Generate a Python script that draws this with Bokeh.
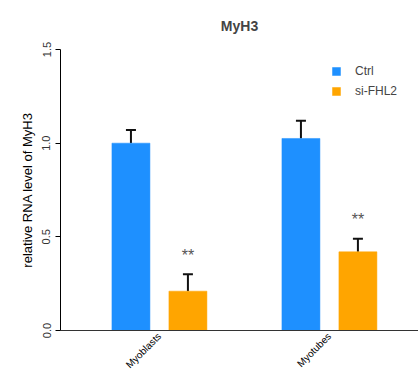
import math
from bokeh.plotting import figure
from bokeh.models import (Range1d, FixedTicker, ColumnDataSource, Whisker, TeeHead,
                          Legend, LegendItem)
from bokeh.core.properties import value
from bokeh.embed import file_html
from bokeh.resources import INLINE

# ---- data ----
groups = ["Myoblasts", "Myotubes"]
series = ["Ctrl", "si-FHL2"]
ctrl_vals = [1.00, 1.025]
ctrl_err = [0.07, 0.095]
si_vals = [0.21, 0.42]
si_err = [0.09, 0.07]
stars = ["**", "**"]
y_ticks = [0.0, 0.5, 1.0, 1.5]
y_tick_labels = ["0.0", "0.5", "1.0", "1.5"]
colors = ["#1E90FF", "#FFA500"]

FONT = "Liberation Sans"
bar_w = 0.2235
dodge = 0.1676

p = figure(width=418, height=380, output_backend="svg", toolbar_location=None,
           x_range=Range1d(-0.582, 1.524), y_range=Range1d(0, 1.5),
           min_border_left=60, min_border_right=0, min_border_top=48,
           min_border_bottom=50, title="MyH3")
p.outline_line_color = None
p.grid.visible = False
p.background_fill_color = "white"

p.title.align = "center"
p.title.text_font = FONT
p.title.text_font_size = "14px"
p.title.text_font_style = "bold"
p.title.offset = 5
p.title.standoff = 31

gx = list(range(len(groups)))
src_c = ColumnDataSource(dict(x=[g - dodge for g in gx], top=ctrl_vals,
                              up=[v + e for v, e in zip(ctrl_vals, ctrl_err)]))
src_s = ColumnDataSource(dict(x=[g + dodge for g in gx], top=si_vals,
                              up=[v + e for v, e in zip(si_vals, si_err)],
                              star=stars,
                              sy=[v + e + 0.1 for v, e in zip(si_vals, si_err)]))

r_c = p.vbar(x="x", top="top", width=bar_w, source=src_c, fill_color=colors[0],
             line_color=colors[0], line_alpha=0.5)
r_s = p.vbar(x="x", top="top", width=bar_w, source=src_s, fill_color=colors[1],
             line_color=colors[1], line_alpha=0.5)

for src in (src_c, src_s):
    w = Whisker(base="x", lower="top", upper="up", source=src, dimension="height",
                line_color="#111111", line_width=2,
                upper_head=TeeHead(size=10, line_color="#111111", line_width=2),
                lower_head=None)
    p.add_layout(w)

p.text(x="x", y="sy", text="star", source=src_s, text_align="center",
       text_baseline="middle", text_font=value(FONT), text_font_size="16px",
       text_color="#555555")

# axes
p.yaxis.ticker = FixedTicker(ticks=y_ticks)
p.yaxis.major_label_overrides = {t: l for t, l in zip(y_ticks, y_tick_labels)}
p.yaxis.major_label_orientation = "vertical"
p.yaxis.minor_tick_line_color = None
p.yaxis.major_tick_out = 5
p.yaxis.major_tick_in = 0
p.yaxis.axis_line_color = "black"
p.yaxis.major_tick_line_color = "black"
p.yaxis.major_label_text_font = FONT
p.yaxis.major_label_text_font_size = "11px"
p.yaxis.major_label_text_color = "#333333"
p.yaxis.axis_label = "relative RNA level of MyH3"
p.yaxis.axis_label_text_font = FONT
p.yaxis.axis_label_text_font_size = "13px"
p.yaxis.axis_label_text_font_style = "normal"
p.yaxis.axis_label_text_color = "black"
p.yaxis.axis_label_standoff = 5

p.xaxis.ticker = FixedTicker(ticks=gx)
p.xaxis.major_label_overrides = {g: n for g, n in zip(gx, groups)}
p.xaxis.major_label_orientation = math.pi / 4
p.xaxis.major_tick_line_color = None
p.xaxis.major_tick_out = 0
p.xaxis.major_tick_in = 0
p.xaxis.minor_tick_line_color = None
p.xaxis.axis_line_color = "#333333"
p.xaxis.major_label_text_font = FONT
p.xaxis.major_label_text_font_size = "10px"
p.xaxis.major_label_text_color = "black"
p.xaxis.major_label_standoff = 4

legend = Legend(items=[LegendItem(label=series[0], renderers=[r_c]),
                       LegendItem(label=series[1], renderers=[r_s])],
                location=(271, 232), border_line_color=None,
                background_fill_alpha=0, glyph_width=10, glyph_height=10,
                label_height=10, spacing=6, label_standoff=14, padding=5,
                margin=0, label_text_font=FONT, label_text_font_size="12px")
p.add_layout(legend)

open("out.html", "w").write(file_html(p, INLINE))
